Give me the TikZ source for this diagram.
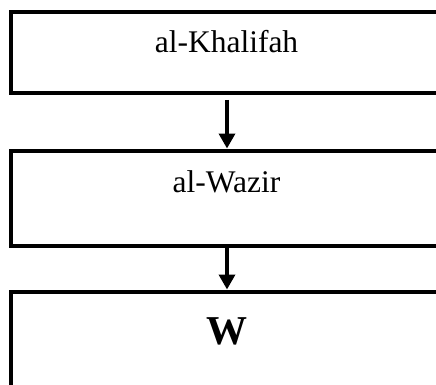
\documentclass[tikz,border=0pt]{standalone}
\usepackage{fontspec}
\setmainfont{Liberation Serif}
\usetikzlibrary{arrows.meta}
\begin{document}
\begin{tikzpicture}[x=1pt,y=-1pt,
  box/.style={draw=black,line width=4pt,rectangle,inner sep=0pt,outer sep=2pt,anchor=north west,minimum width=469pt},
  lbl/.style={font=\fontsize{31.5}{36}\selectfont,anchor=base,inner sep=0pt},
  arr/.style={line width=3.5pt,-{Triangle[width=16pt,length=15pt]}}]
\useasboundingbox (0,0) rectangle (436,385);
\clip (0,0) rectangle (436,385);
\node[box,minimum height=81.5pt] (b1) at (9,10) {};
\node[box,minimum height=95.5pt] (b2) at (9,148.5) {};
\node[box,minimum height=200pt] (b3) at (9,289.5) {};
\node[lbl] (t1) at (226.5,53) {al-Khalifah};
\node[lbl] (t2) at (226.5,192) {al-Wazir};
\node[lbl,font=\fontsize{41}{46}\selectfont\bfseries] (t3) at (227,344) {W};
\coordinate (a1s) at (227,100);
\coordinate (a2s) at (227,246);
\draw[arr] (a1s) -- (a1s |- b2.north);
\draw[arr] (a2s) -- (a2s |- b3.north);
\end{tikzpicture}
\end{document}
